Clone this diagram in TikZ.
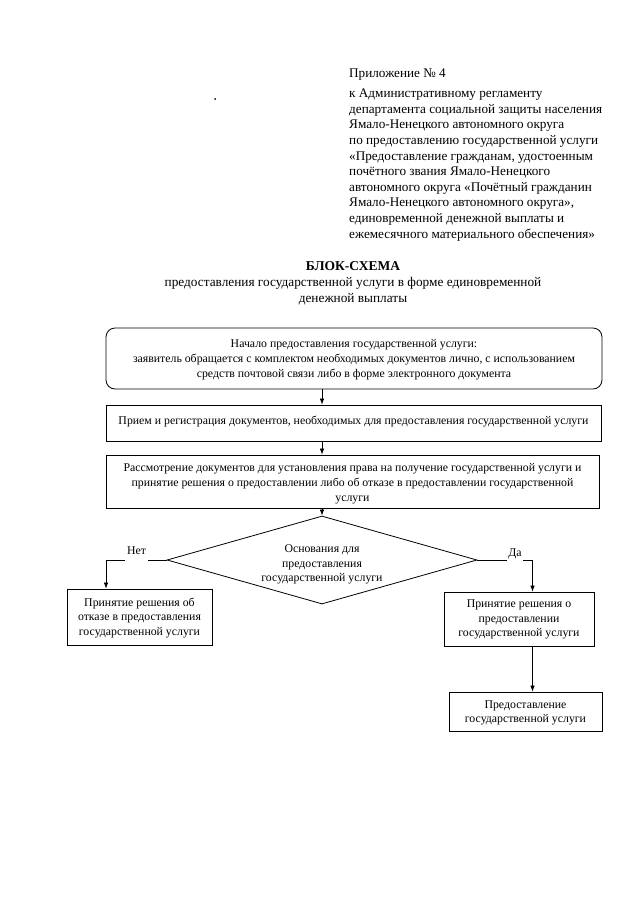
\documentclass[tikz,border=0pt]{standalone}
\usepackage{fontspec}
\setmainfont{Liberation Serif}
\usetikzlibrary{shapes.geometric,arrows.meta}
\begin{document}
\begin{tikzpicture}[x=1pt,y=-1pt,
  box/.style={draw, line width=0.8pt, inner sep=0pt},
  txt/.style={align=center, inner sep=0pt, font=\fontsize{11.8}{14.8}\selectfont},
  arr/.style={line width=0.7pt, -{Latex[length=6pt,width=4.5pt]}},
  ln/.style={line width=0.7pt},
  lbl/.style={inner sep=0pt, font=\fontsize{11.8}{14.6}\selectfont}]
\useasboundingbox (0,0) rectangle (640,905);
% header
\node[anchor=base west, inner sep=0pt, font=\fontsize{13.2}{15.6}\selectfont] (app) at (349,77.5) {Приложение № 4};
\node[anchor=north west, align=left, inner sep=0pt, font=\fontsize{13.2}{15.6}\selectfont] (reg) at (349,88.8)
 {к Административному регламенту\\
  департамента социальной защиты населения\\
  Ямало-Ненецкого автономного округа\\
  по предоставлению государственной услуги\\
  «Предоставление гражданам, удостоенным\\
  почётного звания Ямало-Ненецкого\\
  автономного округа «Почётный гражданин\\
  Ямало-Ненецкого автономного округа»,\\
  единовременной денежной выплаты и\\
  ежемесячного материального обеспечения»};
\fill (215,99) circle (1pt);
% title
\node[anchor=base, inner sep=0pt, font=\fontsize{13.5}{16}\selectfont\bfseries] (title) at (353,270) {БЛОК-СХЕМА};
\node[anchor=north, align=center, inner sep=0pt, font=\fontsize{13.3}{16}\selectfont] (sub) at (353,277)
 {предоставления государственной услуги в форме единовременной\\ денежной выплаты};
% boxes
\node[box, minimum width=496pt, minimum height=61pt, rounded corners=9pt] (b1) at (354,358.5) {};
\node[txt] (t1) at (354,360)
 {Начало предоставления государственной услуги:\\
  заявитель обращается с комплектом необходимых документов лично, с использованием\\
  средств почтовой связи либо в форме электронного документа};
\node[box, minimum width=495pt, minimum height=36pt] (b2) at (353.5,423) {};
\node[txt] (t2) at (353.5,422)
 {Прием и регистрация документов, необходимых для предоставления государственной услуги};
\node[box, minimum width=493pt, minimum height=53pt] (b3) at (352.5,481.5) {};
\node[txt] (t3) at (352.5,484)
 {Рассмотрение документов для установления права на получение государственной услуги и\\
  принятие решения о предоставлении либо об отказе в предоставлении государственной\\
  услуги};
\node[draw, line width=0.8pt, diamond, aspect=3.5, minimum width=310pt, minimum height=88pt, inner sep=0pt] (d) at (322,560) {};
\node[txt, font=\fontsize{11.8}{14.2}\selectfont] (td) at (322,564.5)
 {Основания для\\ предоставления\\ государственной услуги};
\node[box, minimum width=145pt, minimum height=56pt] (no) at (139.5,617) {};
\node[txt] (tn) at (139.5,618)
 {Принятие решения об\\ отказе в предоставления\\ государственной услуги};
\node[box, minimum width=150pt, minimum height=54pt] (yes) at (519,619) {};
\node[txt] (ty) at (519,619.5)
 {Принятие решения о\\ предоставлении\\ государственной услуги};
\node[box, minimum width=153pt, minimum height=39pt] (fin) at (525.5,711.5) {};
\node[txt] (tf) at (525.5,713)
 {Предоставление\\ государственной услуги};
% connectors
\coordinate (ax) at (322,0);
\draw[arr] (b1.south -| ax) -- (b2.north -| ax);
\draw[arr] (b2.south -| ax) -- (b3.north -| ax);
\draw[arr] (b3.south -| ax) -- (d.north);
\coordinate (n1) at (148,560);
\coordinate (n2) at (125,560);
\coordinate (nx) at (106,0);
\draw[ln] (d.west) -- (n1);
\draw[arr] (n2) -| (no.north -| nx);
\node[lbl, anchor=base] (tno) at (136.5,554) {Нет};
\coordinate (y1) at (507,560);
\coordinate (y2) at (523,560);
\coordinate (yx) at (532.5,0);
\draw[ln] (d.east) -- (y1);
\draw[arr] (y2) -| (yes.north -| yx);
\node[lbl, anchor=base] (tyes) at (515,556) {Да};
\draw[arr] (yes.south -| yx) -- (fin.north -| yx);
\end{tikzpicture}
\end{document}
